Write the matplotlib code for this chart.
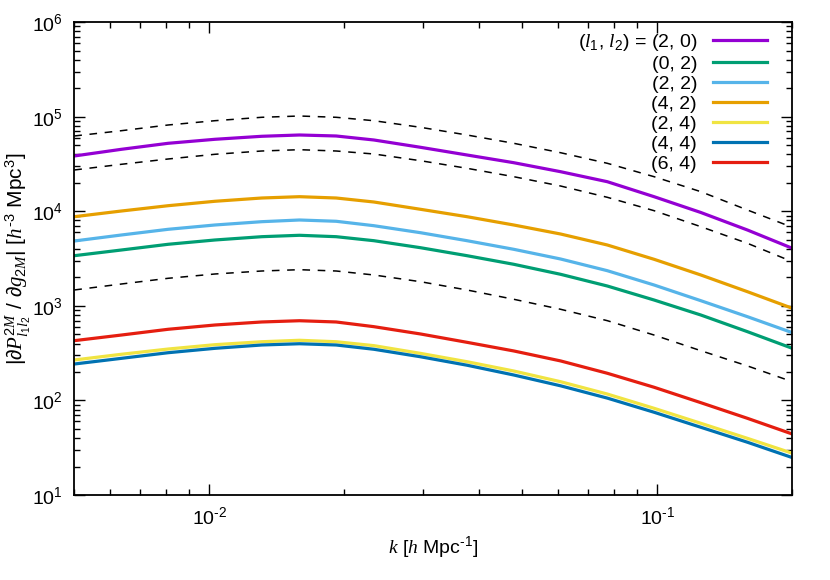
import numpy as np
import matplotlib
matplotlib.use("Agg")
import matplotlib.pyplot as plt
from matplotlib.ticker import FuncFormatter

plt.rcParams['font.family'] = ['Liberation Sans', 'DejaVu Sans']
plt.rcParams['mathtext.fontset'] = 'custom'
plt.rcParams['mathtext.rm'] = 'Liberation Sans'
plt.rcParams['mathtext.it'] = 'Liberation Serif:italic'
plt.rcParams['mathtext.default'] = 'regular'

# k values [h/Mpc]
k = [0.005, 0.00637, 0.0081, 0.0103, 0.0131, 0.0159, 0.0192, 0.0233, 0.0296,
     0.0376, 0.0478, 0.0608, 0.0773, 0.0983, 0.125, 0.1588, 0.2]

# |dP/dg| for each (l1, l2)
p20 = [38430, 45220, 52340, 57700, 62070, 64060, 62530, 56730, 47490,
       39370, 32640, 26220, 20550, 14270, 9712, 6342, 4063]
p02 = [3394, 3898, 4480, 4974, 5389, 5577, 5389, 4889, 4123,
       3394, 2753, 2158, 1623, 1154, 801, 534, 356]
p22 = [4853, 5617, 6452, 7165, 7765, 8091, 7842, 7043, 5940,
       4889, 3965, 3132, 2356, 1663, 1135, 769, 521]
p42 = [8768, 10070, 11460, 12760, 13820, 14270, 13820, 12540, 10500,
       8768, 7165, 5754, 4404, 3109, 2122, 1413, 943]
p24 = [268, 308, 350, 389, 418, 433, 418, 380, 315,
       257, 205, 158, 117, 82.7, 57.4, 39.8, 27.7]
p44 = [243, 279, 320, 356, 386, 398, 386, 348, 290,
       236, 186, 143, 106, 75.1, 52.1, 36.2, 24.9]
p64 = [429, 492, 566, 628, 676, 697, 676, 603, 505,
       412, 334, 262, 194, 138, 94.8, 64.8, 44.2]

# dashed reference curves
ref_hi = [62530, 71120, 81730, 90710, 98560, 101700, 98560, 90710, 77250,
          64060, 52340, 41630, 32170, 23220, 16120, 10320, 6773]
ref_mid = [27330, 31400, 35720, 40050, 43390, 44790, 43390, 40340, 34270,
           28480, 23220, 18510, 14060, 10150, 6877, 4588, 2933]
ref_lo = [1473, 1704, 1958, 2174, 2338, 2414, 2338, 2122, 1802,
          1473, 1175, 921, 698, 492, 336, 232, 158]

labels = [r'($\mathit{l}_1$, $\mathit{l}_2$) = (2, 0)', '(0, 2)', '(2, 2)', '(4, 2)',
          '(2, 4)', '(4, 4)', '(6, 4)']
series = [p20, p02, p22, p42, p24, p44, p64]
colors = ['#9400d3', '#009e73', '#56b4e9', '#e69f00', '#f0e442', '#0072b2', '#e51e10']

fig = plt.figure(figsize=(8.3, 5.8), dpi=100)
ax = fig.add_axes([0.0895, 0.1464, 0.8651, 0.8155])

for ref in [ref_hi, ref_mid, ref_lo]:
    ax.plot(k, ref, color='black', lw=1.1, dashes=(5, 5))

for s, c, lab in zip(series, colors, labels):
    ax.plot(k, s, color=c, lw=2.3, label=lab)

ax.set_xscale('log')
ax.set_yscale('log')
ax.set_xlim(0.005, 0.2)
ax.set_ylim(10, 1e6)


def powlabel(v, pos):
    e = int(round(np.log10(v)))
    if abs(np.log10(v) - e) > 1e-6:
        return ''
    s = str(e).replace('-', '\u2010')
    return r'$10^{%s}$' % s


ax.xaxis.set_major_formatter(FuncFormatter(powlabel))
ax.yaxis.set_major_formatter(FuncFormatter(powlabel))

ax.tick_params(which='both', direction='in', top=True, right=True, labelsize=14)
ax.tick_params(which='major', length=8, width=1.0, pad=8)
ax.tick_params(which='minor', length=4, width=1.0)
for sp in ax.spines.values():
    sp.set_linewidth(1.3)

ax.set_xlabel('$\\mathit{k}$ [$\\mathit{h}$ Mpc$^{\u20101}$]', fontsize=14)
ax.set_ylabel('|$\\partial \\mathit{P}^{2\\mathit{M}}_{\\mathit{l}_1\\mathit{l}_2}$ / '
              '$\\partial \\mathit{g}_{2\\mathit{M}}$| [$\\mathit{h}^{\u20103}$ Mpc$^{3}$]',
              fontsize=15)
ax.yaxis.set_label_coords(-0.058, 0.5)

leg = ax.legend(loc='upper right', bbox_to_anchor=(0.981, 1.004), frameon=False,
                markerfirst=False, fontsize=14, handlelength=2.8, labelspacing=0.12,
                handletextpad=0.8, borderaxespad=0.2)

fig.savefig('out.png', dpi=100)
